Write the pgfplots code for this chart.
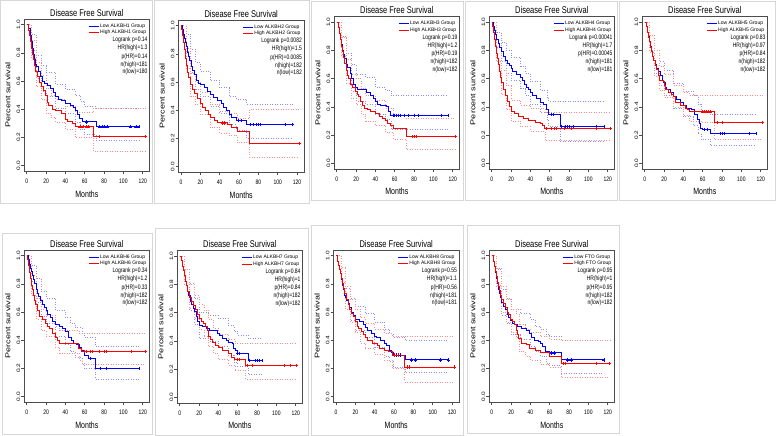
\documentclass[border=0pt]{standalone}
\usepackage{fontspec}
\setmainfont{Liberation Sans}
\usepackage{pgfplots}
\pgfplotsset{compat=1.18}

\definecolor{kmblue}{RGB}{0,0,255}
\definecolor{kmred}{RGB}{255,0,0}
\definecolor{ciblue}{RGB}{140,140,255}
\definecolor{cired}{RGB}{255,140,140}
\definecolor{frame}{RGB}{215,215,215}

\newcommand\fs[1]{\fontsize{#1}{#1}\selectfont}

\pgfplotsset{
 km/.style={
  scale only axis, width=125.2pt, height=152.3pt,
  xmin=-2.5, xmax=127, ymin=-0.04, ymax=1.04,
  axis line style={black!70, line width=0.5pt},
  xtick={0,20,40,60,80,100,120},
  ytick={0,0.2,0.4,0.6,0.8,1},
  tick pos=left, tick align=outside, major tick length=3pt,
  tick style={black!70, line width=0.5pt},
  /pgf/number format/assume math mode=true,
  yticklabel style={/pgf/number format/fixed, /pgf/number format/fixed zerofill, /pgf/number format/precision=1, rotate=90, xscale=1.3, anchor=south, inner sep=1pt, font=\fs{5}},
  xticklabel style={font=\fs{5}, yshift=-2.5pt, yscale=1.3, inner sep=1.5pt, anchor=north},
  title={Disease Free Survival},
  title style={at={(axis description cs:0.5,1.041)}, anchor=center, yshift=-6pt, font=\fs{7.5}, yscale=1.3, inner sep=0pt},
  xlabel={Months},
  xlabel style={at={(axis description cs:0.5,-0.149)}, anchor=center, font=\fs{7}, yscale=1.3, inner sep=0pt},
  ylabel={Percent survival},
  ylabel style={at={(axis description cs:-0.132,0.5)}, anchor=center, font=\fs{7}, xscale=1.3, inner sep=0pt},
  legend style={draw=none, fill=none, at={(0.980,0.974)}, anchor=north east, font=\fs{5}, inner sep=0pt, row sep=0.3pt, nodes={inner sep=0.6pt}},
  legend cell align=left,
  legend image code/.code={\draw[#1] (0pt,0pt) -- (10pt,0pt);},
 },
 ci/.style={const plot, dotted, line width=0.5pt, forget plot},
 main/.style={const plot, line width=1pt, mark=none},
 cens/.style={only marks, mark=+, mark size=1.6pt, mark options={line width=0.5pt}, forget plot},
}
\tikzset{st/.style={anchor=east, inner sep=0pt, font=\fs{5}, yscale=1.3}}

\newcommand\stats[5]{%
 \node[st] at (rel axis cs:0.986,0.862) {Logrank p=#1};
 \node[st] at (rel axis cs:0.986,0.808) {HR(high)=#2};
 \node[st] at (rel axis cs:0.986,0.754) {p(HR)=#3};
 \node[st] at (rel axis cs:0.986,0.702) {n(high)=#4};
 \node[st] at (rel axis cs:0.986,0.650) {n(low)=#5};
}

\begin{document}
\begin{tikzpicture}
\useasboundingbox (0,0) rectangle (776pt,436pt);
\fill[white] (0,0) rectangle (776pt,436pt);
% panel frames
\draw[frame, line width=0.8pt] (0.5pt,233pt) rectangle (152pt,435.5pt);
\draw[frame, line width=0.8pt] (154pt,233pt) rectangle (309pt,435.5pt);
\draw[frame, line width=0.8pt] (311pt,236pt) rectangle (463pt,435pt);
\draw[frame, line width=0.8pt] (465pt,236pt) rectangle (617pt,435pt);
\draw[frame, line width=0.8pt] (619pt,236pt) rectangle (775.5pt,435pt);
\draw[frame, line width=0.8pt] (2pt,2pt) rectangle (152pt,203pt);
\draw[frame, line width=0.8pt] (155pt,0.5pt) rectangle (308pt,208pt);
\draw[frame, line width=0.8pt] (311pt,0.5pt) rectangle (463pt,211pt);
\draw[frame, line width=0.8pt] (467pt,3pt) rectangle (619pt,211pt);

% ---------------- Panel 1: ALKBH1
\begin{axis}[km, at={(24.28pt,264.7pt)}]
\addplot[ci, ciblue] coordinates {(0,1)(5,0.93)(10,0.78)(15,0.71)(20,0.66)(30,0.58)(40,0.54)(50,0.50)(55,0.46)(60,0.42)(72,0.41)(116,0.41)};
\addplot[ci, ciblue] coordinates {(0,1)(5,0.82)(10,0.62)(15,0.53)(20,0.49)(30,0.41)(40,0.37)(50,0.31)(55,0.26)(60,0.22)(72,0.18)(116,0.18)};
\addplot[ci, cired] coordinates {(0,1)(5,0.89)(10,0.73)(15,0.64)(20,0.55)(25,0.50)(30,0.47)(40,0.42)(50,0.38)(69,0.41)(123,0.41)};
\addplot[ci, cired] coordinates {(0,1)(5,0.76)(10,0.56)(15,0.47)(20,0.37)(25,0.34)(30,0.31)(40,0.26)(50,0.20)(69,0.10)(123,0.10)};
\addplot[main, kmblue] coordinates {(0,1)(2,0.97)(4,0.92)(5,0.88)(6,0.83)(7,0.79)(8,0.75)(9,0.72)(10,0.70)(12,0.67)(14,0.63)(16,0.60)(18,0.58)(22,0.57)(25,0.55)(28,0.52)(30,0.49)(33,0.47)(36,0.46)(40,0.44)(45,0.43)(48,0.41)(50,0.39)(53,0.36)(55,0.335)(58,0.31)(72,0.275)(116,0.275)};
\addlegendentry{Low ALKBH1 Group}
\addplot[main, kmred] coordinates {(0,1)(2,0.96)(3,0.92)(4,0.88)(5,0.83)(6,0.79)(7,0.75)(8,0.71)(9,0.67)(11,0.63)(13,0.59)(15,0.56)(17,0.53)(19,0.50)(21,0.45)(23,0.43)(27,0.40)(30,0.39)(36,0.37)(40,0.33)(42,0.31)(47,0.30)(50,0.275)(69,0.205)(123,0.205)};
\addlegendentry{High ALKBH1 Group}
\addplot[cens, kmblue] coordinates {(62,0.31)(75,0.275)(78,0.275)(80,0.275)(83,0.275)(107,0.275)(113,0.275)(116,0.275)};
\addplot[cens, kmred] coordinates {(55,0.275)(58,0.275)(62,0.275)(64,0.275)(75,0.205)(123,0.205)};
\stats{0.14}{1.3}{0.14}{181}{180}
\end{axis}

% ---------------- Panel 2: ALKBH2
\begin{axis}[km, at={(178.58pt,263.7pt)}]
\addplot[ci, ciblue] coordinates {(0,1)(5,0.94)(10,0.83)(15,0.74)(20,0.68)(30,0.61)(40,0.56)(50,0.50)(57,0.48)(68,0.44)(115,0.44)};
\addplot[ci, ciblue] coordinates {(0,1)(5,0.82)(10,0.67)(15,0.55)(20,0.50)(30,0.43)(40,0.38)(50,0.30)(57,0.26)(68,0.20)(115,0.20)};
\addplot[ci, cired] coordinates {(0,1)(5,0.84)(10,0.66)(15,0.60)(20,0.53)(30,0.44)(40,0.39)(50,0.38)(58,0.34)(71,0.41)(122,0.41)};
\addplot[ci, cired] coordinates {(0,1)(5,0.70)(10,0.50)(15,0.44)(20,0.37)(30,0.28)(40,0.24)(50,0.22)(58,0.17)(71,0.065)(122,0.065)};
\addplot[main, kmblue] coordinates {(0,1)(2,0.97)(3,0.94)(4,0.91)(5,0.88)(6,0.85)(7,0.81)(8,0.78)(9,0.75)(11,0.71)(12,0.68)(14,0.65)(16,0.61)(18,0.59)(20,0.58)(24,0.56)(27,0.53)(30,0.51)(34,0.49)(38,0.47)(42,0.45)(44,0.42)(47,0.40)(50,0.37)(52,0.35)(57,0.33)(68,0.30)(115,0.30)};
\addlegendentry{Low ALKBH2 Group}
\addplot[main, kmred] coordinates {(0,1)(1,0.97)(2,0.93)(3,0.88)(4,0.83)(5,0.77)(6,0.72)(7,0.67)(8,0.63)(10,0.58)(12,0.55)(14,0.52)(17,0.48)(20,0.45)(22,0.42)(25,0.40)(28,0.37)(31,0.35)(35,0.33)(38,0.31)(48,0.30)(52,0.28)(58,0.25)(71,0.165)(122,0.165)};
\addlegendentry{High ALKBH2 Group}
\addplot[cens, kmblue] coordinates {(59,0.33)(62,0.33)(72,0.30)(75,0.30)(78,0.30)(80,0.30)(82,0.30)(108,0.30)(115,0.30)};
\addplot[cens, kmred] coordinates {(43,0.31)(45,0.31)(122,0.165)};
\stats{0.0082}{1.5}{0.0085}{182}{182}
\end{axis}

% ---------------- Panel 3: ALKBH3
\begin{axis}[km, at={(334.28pt,267.1pt)}]
\addplot[ci, ciblue] coordinates {(0,1)(5,0.90)(10,0.78)(15,0.70)(20,0.63)(30,0.61)(40,0.54)(50,0.52)(56,0.48)(115,0.48)};
\addplot[ci, ciblue] coordinates {(0,1)(5,0.77)(10,0.60)(15,0.51)(20,0.44)(30,0.42)(40,0.35)(50,0.31)(56,0.24)(115,0.24)};
\addplot[ci, cired] coordinates {(0,1)(5,0.89)(10,0.74)(15,0.63)(20,0.60)(25,0.53)(30,0.48)(40,0.45)(50,0.39)(59,0.34)(72,0.32)(123,0.32)};
\addplot[ci, cired] coordinates {(0,1)(5,0.76)(10,0.57)(15,0.46)(20,0.42)(25,0.35)(30,0.30)(40,0.27)(50,0.22)(59,0.17)(72,0.10)(123,0.10)};
\addplot[main, kmblue] coordinates {(0,1)(2,0.96)(3,0.92)(4,0.88)(5,0.84)(6,0.80)(7,0.77)(8,0.74)(10,0.70)(11,0.68)(14,0.64)(15,0.60)(17,0.56)(19,0.54)(21,0.52)(31,0.50)(35,0.48)(38,0.46)(40,0.44)(42,0.42)(45,0.41)(51,0.40)(54,0.37)(56,0.34)(115,0.34)};
\addlegendentry{Low ALKBH3 Group}
\addplot[main, kmred] coordinates {(0,1)(2,0.96)(3,0.92)(4,0.88)(5,0.83)(6,0.79)(7,0.75)(8,0.71)(10,0.66)(11,0.62)(12,0.60)(14,0.56)(16,0.54)(19,0.51)(21,0.49)(23,0.47)(25,0.44)(27,0.41)(29,0.39)(32,0.38)(35,0.37)(40,0.35)(44,0.33)(47,0.32)(50,0.30)(53,0.28)(56,0.27)(59,0.25)(72,0.19)(123,0.19)};
\addlegendentry{High ALKBH3 Group}
\addplot[cens, kmblue] coordinates {(58,0.34)(60,0.34)(62,0.34)(64,0.34)(66,0.34)(70,0.34)(74,0.34)(80,0.34)(84,0.34)(108,0.34)(115,0.34)};
\addplot[cens, kmred] coordinates {(78,0.19)(80,0.19)(82,0.19)(123,0.19)};
\stats{0.19}{1.2}{0.19}{182}{182}
\end{axis}

% ---------------- Panel 4: ALKBH4
\begin{axis}[km, at={(489.28pt,267.1pt)}]
\addplot[ci, ciblue] coordinates {(0,1)(5,0.93)(10,0.86)(15,0.80)(20,0.75)(30,0.69)(35,0.64)(40,0.58)(50,0.52)(57,0.47)(59,0.44)(116,0.44)};
\addplot[ci, ciblue] coordinates {(0,1)(5,0.82)(10,0.72)(15,0.64)(20,0.59)(30,0.53)(35,0.48)(40,0.42)(50,0.36)(57,0.31)(59,0.26)(71,0.155)(116,0.155)};
\addplot[ci, cired] coordinates {(0,1)(5,0.85)(10,0.66)(15,0.55)(20,0.45)(30,0.41)(40,0.39)(55,0.36)(123,0.36)};
\addplot[ci, cired] coordinates {(0,1)(5,0.72)(10,0.49)(15,0.38)(20,0.30)(30,0.26)(40,0.23)(55,0.165)(123,0.165)};
\addplot[main, kmblue] coordinates {(0,1)(2,0.97)(3,0.94)(4,0.91)(5,0.88)(7,0.85)(8,0.82)(10,0.79)(12,0.76)(14,0.73)(16,0.71)(18,0.69)(20,0.67)(22,0.65)(26,0.63)(30,0.61)(32,0.59)(34,0.56)(36,0.54)(38,0.52)(40,0.50)(42,0.48)(46,0.46)(50,0.43)(54,0.42)(57,0.38)(59,0.345)(71,0.26)(116,0.26)};
\addlegendentry{Low ALKBH4 Group}
\addplot[main, kmred] coordinates {(0,1)(1,0.97)(2,0.93)(3,0.88)(4,0.83)(5,0.78)(6,0.74)(7,0.70)(8,0.65)(9,0.61)(10,0.57)(12,0.52)(14,0.48)(16,0.44)(18,0.40)(20,0.37)(24,0.35)(28,0.33)(33,0.32)(38,0.30)(45,0.29)(50,0.28)(53,0.27)(55,0.245)(123,0.245)};
\addlegendentry{High ALKBH4 Group}
\addplot[cens, kmblue] coordinates {(62,0.345)(64,0.345)(72,0.26)(76,0.26)(78,0.26)(80,0.26)(84,0.26)(108,0.26)(116,0.26)};
\addplot[cens, kmred] coordinates {(56,0.245)(62,0.245)(65,0.245)(67,0.245)(75,0.245)(82,0.245)(108,0.245)(123,0.245)};
\stats{0.00041}{1.7}{0.00045}{181}{181}
\end{axis}

% ---------------- Panel 5: ALKBH5
\begin{axis}[km, at={(642.28pt,267.1pt)}]
\addplot[ci, ciblue] coordinates {(0,1)(5,0.91)(10,0.80)(15,0.72)(20,0.66)(30,0.57)(40,0.51)(50,0.48)(55,0.42)(58,0.37)(68,0.345)(115,0.345)};
\addplot[ci, ciblue] coordinates {(0,1)(5,0.80)(10,0.64)(15,0.55)(20,0.48)(30,0.39)(40,0.33)(50,0.27)(55,0.21)(58,0.17)(68,0.125)(115,0.125)};
\addplot[ci, cired] coordinates {(0,1)(5,0.91)(10,0.80)(15,0.69)(20,0.63)(30,0.55)(40,0.50)(46,0.485)(122,0.485)};
\addplot[ci, cired] coordinates {(0,1)(5,0.79)(10,0.62)(15,0.52)(20,0.47)(30,0.40)(40,0.34)(46,0.30)(58,0.29)(72,0.17)(122,0.17)};
\addplot[main, kmblue] coordinates {(0,1)(2,0.97)(3,0.93)(4,0.90)(5,0.86)(6,0.83)(7,0.79)(8,0.76)(9,0.73)(11,0.70)(12,0.675)(14,0.65)(16,0.62)(18,0.59)(19,0.57)(21,0.54)(23,0.52)(27,0.50)(30,0.47)(33,0.45)(37,0.43)(40,0.41)(43,0.39)(48,0.38)(51,0.345)(55,0.31)(57,0.28)(58,0.25)(60,0.24)(68,0.21)(115,0.21)};
\addlegendentry{Low ALKBH5 Group}
\addplot[main, kmred] coordinates {(0,1)(2,0.97)(3,0.93)(4,0.89)(5,0.86)(6,0.82)(7,0.79)(8,0.76)(9,0.73)(11,0.69)(12,0.665)(14,0.62)(15,0.59)(19,0.58)(20,0.55)(22,0.52)(25,0.50)(28,0.485)(30,0.47)(32,0.43)(37,0.41)(42,0.39)(44,0.38)(46,0.37)(58,0.365)(72,0.29)(122,0.29)};
\addlegendentry{High ALKBH5 Group}
\addplot[cens, kmblue] coordinates {(62,0.24)(65,0.24)(78,0.21)(80,0.21)(82,0.21)(108,0.21)(115,0.21)};
\addplot[cens, kmred] coordinates {(60,0.365)(62,0.365)(64,0.365)(66,0.365)(68,0.365)(75,0.29)(80,0.29)(122,0.29)};
\stats{0.83}{0.97}{0.84}{182}{182}
\end{axis}

% ---------------- Panel 6: ALKBH6
\begin{axis}[km, at={(24.28pt,33.7pt)}]
\addplot[ci, ciblue] coordinates {(0,1)(5,0.93)(10,0.84)(15,0.75)(20,0.70)(30,0.61)(40,0.56)(45,0.52)(50,0.49)(57,0.45)(60,0.42)(71,0.355)(116,0.355)};
\addplot[ci, ciblue] coordinates {(0,1)(5,0.82)(10,0.67)(15,0.57)(20,0.52)(30,0.43)(40,0.37)(45,0.32)(50,0.28)(57,0.24)(60,0.20)(71,0.125)(116,0.125)};
\addplot[ci, cired] coordinates {(0,1)(5,0.86)(10,0.70)(15,0.62)(20,0.58)(30,0.50)(34,0.47)(54,0.45)(123,0.45)};
\addplot[ci, cired] coordinates {(0,1)(5,0.72)(10,0.55)(15,0.47)(20,0.43)(30,0.35)(34,0.31)(54,0.26)(57,0.23)(123,0.23)};
\addplot[main, kmblue] coordinates {(0,1)(2,0.97)(3,0.94)(4,0.91)(5,0.89)(6,0.86)(7,0.83)(8,0.80)(10,0.76)(11,0.73)(12,0.71)(14,0.68)(16,0.655)(18,0.63)(20,0.61)(22,0.58)(25,0.56)(27,0.535)(30,0.51)(34,0.50)(37,0.48)(40,0.46)(43,0.42)(46,0.40)(48,0.38)(52,0.37)(55,0.35)(57,0.33)(60,0.29)(64,0.27)(71,0.20)(116,0.20)};
\addlegendentry{Low ALKBH6 Group}
\addplot[main, kmred] coordinates {(0,1)(1,0.97)(2,0.93)(3,0.88)(4,0.84)(5,0.79)(6,0.76)(7,0.72)(8,0.68)(9,0.65)(11,0.61)(13,0.57)(16,0.55)(19,0.52)(21,0.50)(24,0.48)(27,0.45)(30,0.42)(32,0.40)(34,0.38)(54,0.345)(57,0.32)(123,0.32)};
\addlegendentry{High ALKBH6 Group}
\addplot[cens, kmblue] coordinates {(66,0.27)(76,0.20)(82,0.20)(116,0.20)};
\addplot[cens, kmred] coordinates {(60,0.32)(62,0.32)(66,0.32)(68,0.32)(75,0.32)(80,0.32)(82,0.32)(108,0.32)(123,0.32)};
\stats{0.34}{1.2}{0.33}{182}{182}
\end{axis}

% ---------------- Panel 7: ALKBH7
\begin{axis}[km, at={(177.28pt,33.1pt)}]
\addplot[ci, ciblue] coordinates {(0,1)(5,0.91)(10,0.81)(15,0.70)(20,0.60)(30,0.58)(40,0.56)(50,0.51)(56,0.47)(60,0.44)(71,0.42)(85,0.42)};
\addplot[ci, ciblue] coordinates {(0,1)(5,0.80)(10,0.62)(15,0.52)(20,0.42)(30,0.40)(40,0.36)(50,0.30)(56,0.25)(60,0.22)(71,0.16)(85,0.16)};
\addplot[ci, cired] coordinates {(0,1)(5,0.91)(10,0.80)(15,0.72)(20,0.66)(25,0.62)(30,0.55)(35,0.49)(40,0.45)(50,0.41)(57,0.38)(68,0.38)(121,0.38)};
\addplot[ci, cired] coordinates {(0,1)(5,0.80)(10,0.63)(15,0.56)(20,0.48)(25,0.43)(30,0.36)(35,0.31)(40,0.27)(50,0.23)(57,0.19)(68,0.13)(121,0.13)};
\addplot[main, kmblue] coordinates {(0,1)(2,0.97)(3,0.93)(4,0.90)(5,0.86)(6,0.82)(7,0.79)(8,0.75)(9,0.72)(11,0.68)(12,0.66)(14,0.63)(15,0.61)(17,0.57)(18,0.54)(20,0.51)(24,0.50)(28,0.485)(31,0.475)(35,0.47)(39,0.45)(41,0.44)(44,0.415)(48,0.40)(50,0.39)(55,0.38)(56,0.345)(58,0.33)(60,0.31)(71,0.26)(85,0.26)};
\addlegendentry{Low ALKBH7 Group}
\addplot[main, kmred] coordinates {(0,1)(2,0.97)(3,0.93)(4,0.90)(5,0.86)(6,0.82)(7,0.79)(8,0.75)(10,0.71)(12,0.68)(14,0.65)(16,0.62)(18,0.59)(20,0.56)(23,0.54)(25,0.52)(27,0.50)(29,0.47)(30,0.43)(32,0.41)(34,0.39)(37,0.37)(40,0.35)(44,0.33)(50,0.31)(54,0.285)(57,0.27)(68,0.225)(121,0.225)};
\addlegendentry{High ALKBH7 Group}
\addplot[cens, kmblue] coordinates {(60,0.31)(62,0.31)(72,0.26)(78,0.26)(80,0.26)(82,0.26)(85,0.26)};
\addplot[cens, kmred] coordinates {(60,0.27)(62,0.27)(70,0.225)(75,0.225)(108,0.225)(114,0.225)(121,0.225)};
\stats{0.84}{1}{0.84}{182}{182}
\end{axis}

% ---------------- Panel 8: ALKBH8
\begin{axis}[km, at={(333.58pt,33.7pt)}]
\addplot[ci, ciblue] coordinates {(0,1)(5,0.92)(10,0.77)(15,0.70)(20,0.64)(30,0.59)(40,0.53)(50,0.48)(55,0.45)(59,0.42)(72,0.40)(116,0.40)};
\addplot[ci, ciblue] coordinates {(0,1)(5,0.81)(10,0.62)(15,0.54)(20,0.47)(30,0.42)(40,0.35)(50,0.29)(55,0.25)(59,0.21)(72,0.17)(116,0.17)};
\addplot[ci, cired] coordinates {(0,1)(5,0.92)(10,0.78)(15,0.69)(20,0.62)(25,0.56)(30,0.52)(40,0.48)(50,0.45)(58,0.43)(71,0.425)(122,0.425)};
\addplot[ci, cired] coordinates {(0,1)(5,0.81)(10,0.62)(15,0.53)(20,0.46)(25,0.38)(30,0.34)(40,0.30)(50,0.26)(58,0.20)(71,0.105)(122,0.105)};
\addplot[main, kmblue] coordinates {(0,1)(2,0.96)(3,0.93)(4,0.905)(5,0.87)(6,0.83)(7,0.79)(8,0.76)(9,0.72)(10,0.70)(11,0.68)(13,0.66)(14,0.635)(16,0.60)(18,0.576)(20,0.55)(24,0.53)(28,0.51)(31,0.49)(33,0.47)(37,0.45)(40,0.43)(42,0.42)(46,0.40)(50,0.38)(52,0.365)(55,0.33)(57,0.31)(59,0.295)(72,0.26)(116,0.26)};
\addlegendentry{Low ALKBH8 Group}
\addplot[main, kmred] coordinates {(0,1)(2,0.96)(3,0.93)(4,0.905)(5,0.87)(6,0.84)(7,0.80)(8,0.77)(9,0.73)(11,0.69)(13,0.65)(14,0.62)(16,0.59)(18,0.565)(20,0.53)(22,0.50)(23,0.48)(26,0.46)(28,0.44)(30,0.42)(33,0.40)(38,0.38)(43,0.36)(45,0.34)(50,0.33)(54,0.32)(58,0.295)(71,0.21)(122,0.21)};
\addlegendentry{High ALKBH8 Group}
\addplot[cens, kmblue] coordinates {(60,0.295)(62,0.295)(64,0.295)(66,0.295)(78,0.26)(82,0.26)(108,0.26)(116,0.26)};
\addplot[cens, kmred] coordinates {(60,0.295)(64,0.295)(74,0.21)(76,0.21)(122,0.21)};
\stats{0.55}{1.1}{0.56}{181}{181}
\end{axis}

% ---------------- Panel 9: FTO
\begin{axis}[km, at={(489.28pt,33.7pt)}]
\addplot[ci, ciblue] coordinates {(0,1)(5,0.90)(10,0.76)(15,0.70)(20,0.62)(30,0.59)(40,0.55)(45,0.50)(50,0.48)(56,0.44)(60,0.43)(72,0.40)(116,0.40)};
\addplot[ci, ciblue] coordinates {(0,1)(5,0.78)(10,0.58)(15,0.52)(20,0.44)(30,0.41)(40,0.36)(45,0.32)(50,0.29)(56,0.24)(60,0.22)(72,0.165)(116,0.165)};
\addplot[ci, cired] coordinates {(0,1)(5,0.91)(10,0.78)(15,0.69)(20,0.62)(25,0.59)(28,0.51)(35,0.48)(40,0.46)(50,0.43)(60,0.41)(72,0.40)(122,0.40)};
\addplot[ci, cired] coordinates {(0,1)(5,0.79)(10,0.60)(15,0.53)(20,0.46)(25,0.42)(28,0.32)(35,0.29)(40,0.26)(50,0.23)(60,0.21)(72,0.135)(122,0.135)};
\addplot[main, kmblue] coordinates {(0,1)(2,0.96)(3,0.92)(4,0.88)(5,0.84)(6,0.80)(7,0.76)(8,0.73)(9,0.70)(10,0.67)(12,0.64)(14,0.615)(16,0.58)(17,0.56)(19,0.54)(21,0.52)(24,0.51)(27,0.50)(31,0.485)(36,0.47)(39,0.45)(41,0.42)(44,0.40)(48,0.39)(50,0.38)(53,0.355)(56,0.32)(60,0.31)(72,0.26)(116,0.26)};
\addlegendentry{Low FTO Group}
\addplot[main, kmred] coordinates {(0,1)(2,0.96)(3,0.92)(4,0.89)(5,0.85)(6,0.81)(7,0.78)(8,0.75)(9,0.72)(10,0.69)(12,0.66)(14,0.63)(16,0.60)(17,0.58)(19,0.55)(21,0.53)(24,0.51)(26,0.47)(27,0.44)(28,0.41)(31,0.38)(36,0.37)(39,0.345)(45,0.33)(50,0.31)(60,0.285)(72,0.235)(122,0.235)};
\addlegendentry{High FTO Group}
\addplot[cens, kmblue] coordinates {(62,0.31)(65,0.31)(78,0.26)(82,0.26)(116,0.26)};
\addplot[cens, kmred] coordinates {(74,0.235)(76,0.235)(108,0.235)(122,0.235)};
\stats{0.95}{1}{0.95}{182}{182}
\end{axis}
\end{tikzpicture}
\end{document}
